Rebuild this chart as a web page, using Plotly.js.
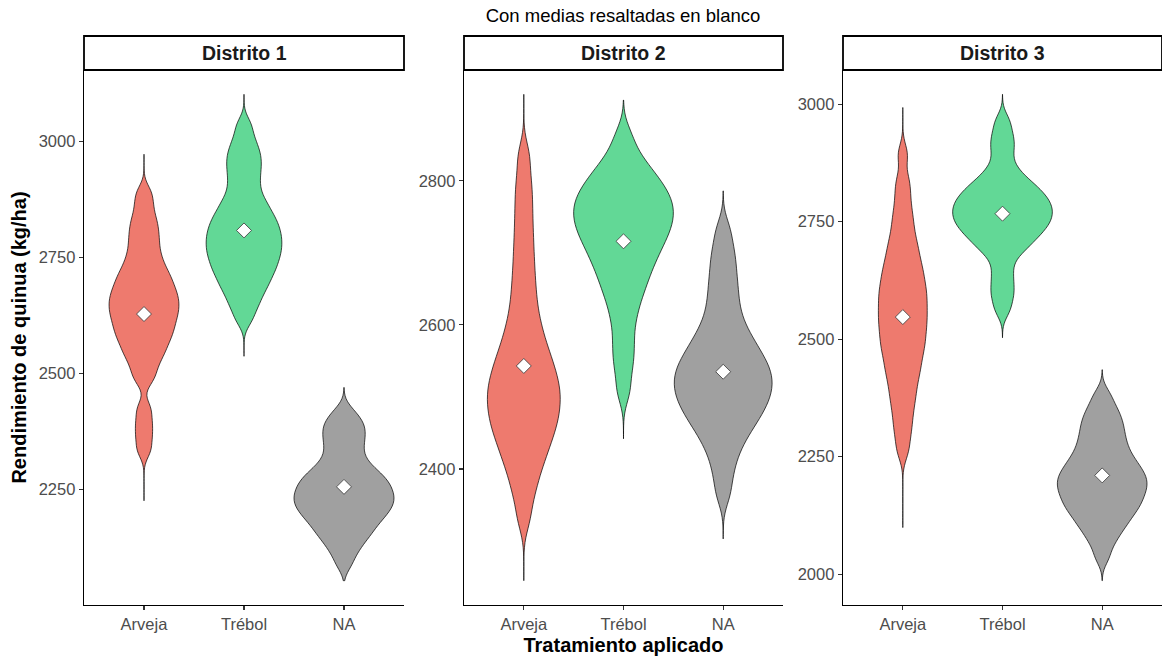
<!DOCTYPE html>
<html><head><meta charset="utf-8">
<script src="https://cdn.plot.ly/plotly-3.0.1.min.js"></script>
<style>html,body{margin:0;padding:0;background:#fff}#chart{width:1162px;height:659px}</style>
</head><body><div id="chart"></div>
<script>
// ---------- data ----------
const categories = ['Arveja', 'Trébol', 'NA'];
const districts = ['Distrito 1', 'Distrito 2', 'Distrito 3'];

// yield samples (kg/ha) per district and treatment
const d1_arveja = [2335,2366,2394,2425,2485,2505,2524,2538,2549,2560,2571,2579,2588,2596,2604,2612,2620,2627,2634,2641,2648,2655,2662,2669,2676,2684,2692,2701,2709,2719,2729,2742,2755,2771,2787,2803,2820,2838,2863,2890];
const d1_trebol = [2615,2639,2655,2669,2682,2691,2701,2710,2719,2726,2733,2741,2748,2755,2761,2768,2774,2781,2787,2794,2800,2807,2813,2821,2828,2835,2843,2852,2862,2872,2884,2900,2915,2931,2945,2959,2973,2988,3008,3036];
const d1_na     = [2090,2115,2129,2143,2152,2160,2168,2177,2184,2189,2195,2201,2207,2212,2216,2221,2226,2231,2236,2240,2245,2250,2256,2261,2266,2271,2277,2283,2290,2297,2306,2318,2330,2344,2356,2367,2379,2390,2401,2419];

const d2_arveja = [2331,2361,2379,2396,2407,2419,2428,2437,2445,2453,2460,2466,2473,2480,2486,2492,2498,2505,2511,2517,2523,2530,2538,2545,2552,2561,2571,2580,2593,2605,2621,2638,2657,2677,2699,2722,2747,2773,2800,2835];
const d2_trebol = [2508,2539,2561,2582,2604,2621,2636,2647,2658,2667,2675,2684,2691,2697,2704,2710,2716,2721,2726,2731,2736,2741,2745,2750,2754,2759,2763,2768,2772,2777,2782,2787,2792,2798,2804,2811,2819,2828,2842,2864];
const d2_na     = [2365,2392,2412,2428,2439,2449,2458,2464,2471,2477,2483,2488,2493,2498,2503,2508,2512,2517,2521,2526,2531,2535,2540,2545,2550,2555,2561,2568,2574,2581,2590,2599,2611,2624,2639,2654,2670,2688,2706,2732];

const d3_arveja = [2262,2296,2322,2346,2367,2385,2402,2419,2432,2445,2458,2471,2481,2492,2502,2513,2523,2533,2543,2552,2562,2572,2582,2592,2601,2611,2622,2633,2644,2656,2668,2683,2698,2713,2734,2755,2779,2809,2840,2893];
const d3_trebol = [2561,2587,2606,2627,2649,2672,2687,2696,2704,2712,2720,2725,2731,2736,2742,2747,2752,2756,2761,2766,2770,2775,2780,2785,2789,2794,2799,2804,2810,2816,2822,2828,2836,2846,2857,2875,2899,2918,2938,2965];
const d3_na     = [2036,2064,2079,2094,2103,2112,2121,2129,2136,2142,2148,2154,2160,2166,2172,2177,2182,2187,2193,2198,2203,2208,2213,2219,2225,2231,2238,2244,2252,2261,2269,2279,2289,2299,2310,2321,2332,2345,2360,2383];

// observed minimum / maximum of each group (violin extent)
const d1_range = [[2226, 2972], [2537, 3101], [2054, 2470]];
const d2_range = [[2245, 2920], [2442, 2912], [2303, 2786]];
const d3_range = [[2099, 2993], [2503, 3021], [1986, 2435]];

// group means (white diamonds)
const d1_means = [2628, 2808, 2256];
const d2_means = [2543, 2716, 2535];
const d3_means = [2547, 2767, 2210];

// y tick values per panel
const d1_ticks = [2250, 2500, 2750, 3000];
const d2_ticks = [2400, 2600, 2800];
const d3_ticks = [2000, 2250, 2500, 2750, 3000];

// kernel bandwidth per group (kg/ha)
const d1_bw = [18, 18, 18];
const d2_bw = [20, 18, 18];
const d3_bw = [22, 18, 18];

// ---------- style ----------
const FONT = 'Liberation Sans, Arial, Helvetica, sans-serif';
const fills = ['#EE7A6E', '#62D896', '#A0A0A0'];

const samples = [[d1_arveja, d1_trebol, d1_na], [d2_arveja, d2_trebol, d2_na], [d3_arveja, d3_trebol, d3_na]];
const ranges = [d1_range, d2_range, d3_range];
const means = [d1_means, d2_means, d3_means];
const ticks = [d1_ticks, d2_ticks, d3_ticks];
const bws = [d1_bw, d2_bw, d3_bw];

const W = 1162, H = 659;
const M = {l: 84, r: 0, t: 70, b: 54};
const PW = W - M.l - M.r, PH = H - M.t - M.b;
const panelPx = [[84, 404], [464, 783], [843, 1162]];
const domains = panelPx.map(p => [(p[0] - M.l) / PW, (p[1] - M.l) / PW]);

const traces = [];
const layout = {
  width: W, height: H,
  margin: M,
  paper_bgcolor: '#fff', plot_bgcolor: '#fff',
  showlegend: false,
  violinmode: 'overlay', violingap: 0, violingroupgap: 0,
  font: {family: FONT, color: '#000'},
  title: {text: 'Con medias resaltadas en blanco', x: 0.5, xref: 'paper', xanchor: 'center',
          y: 1 - 16 / H, yref: 'container', yanchor: 'middle', font: {family: FONT, size: 18.5, color: '#000'}},
  shapes: [], annotations: []
};

for (let i = 0; i < 3; i++) {
  const xa = i === 0 ? 'x' : 'x' + (i + 1);
  const ya = i === 0 ? 'y' : 'y' + (i + 1);
  for (let j = 0; j < 3; j++) {
    const vals = samples[i][j];
    traces.push({
      type: 'violin', xaxis: xa, yaxis: ya,
      x: vals.map(() => categories[j]), y: vals,
      name: districts[i] + ' ' + categories[j],
      scalegroup: 'panel' + i, scalemode: 'width',
      spanmode: 'manual', span: ranges[i][j],
      bandwidth: bws[i][j],
      points: false, box: {visible: false}, meanline: {visible: false},
      fillcolor: fills[j], line: {color: '#000', width: 0.7},
      hoveron: 'violins'
    });
  }
  traces.push({
    type: 'scatter', mode: 'markers', xaxis: xa, yaxis: ya,
    x: categories, y: means[i],
    marker: {symbol: 'diamond', size: 11.5, color: '#fff', line: {color: '#333', width: 0.8}},
    hoverinfo: 'y'
  });

  let lo = Infinity, hi = -Infinity;
  ranges[i].forEach(r => { lo = Math.min(lo, r[0]); hi = Math.max(hi, r[1]); });
  const pad = (hi - lo) * 0.05;

  const xKey = i === 0 ? 'xaxis' : 'xaxis' + (i + 1);
  const yKey = i === 0 ? 'yaxis' : 'yaxis' + (i + 1);
  layout[xKey] = {
    domain: domains[i], anchor: ya, type: 'category',
    categoryorder: 'array', categoryarray: categories, range: [-0.6, 2.6],
    showline: true, linecolor: '#000', linewidth: 1.3, mirror: false,
    ticks: 'outside', ticklen: 4, tickwidth: 1.1, tickcolor: '#333',
    tickfont: {family: FONT, size: 16.5, color: '#4D4D4D'},
    showgrid: false, zeroline: false, fixedrange: true, automargin: false
  };
  if (i === 1) {
    layout[xKey].title = {text: '<b>Tratamiento aplicado</b>', standoff: 6,
      font: {family: FONT, size: 20, color: '#000'}};
  }
  layout[yKey] = {
    domain: [0, 1], anchor: xa,
    range: [lo - pad, hi + pad],
    tickvals: ticks[i], ticktext: ticks[i].map(String),
    showline: true, linecolor: '#000', linewidth: 1.3,
    ticks: 'outside', ticklen: 4, tickwidth: 1.1, tickcolor: '#333',
    tickfont: {family: FONT, size: 16.5, color: '#4D4D4D'},
    showgrid: false, zeroline: false, fixedrange: true, automargin: false
  };
  if (i === 0) {
    layout[yKey].title = {text: '<b>Rendimiento de quinua (kg/ha)</b>', standoff: 6,
      font: {family: FONT, size: 20, color: '#000'}};
  }

  // facet strip
  const stripH = 34 / PH;
  layout.shapes.push({type: 'rect', xref: 'paper', yref: 'paper',
    x0: domains[i][0], x1: domains[i][1], y0: 1, y1: 1 + stripH,
    fillcolor: '#fff', line: {color: '#000', width: 1.8}, layer: 'above'});
  layout.annotations.push({xref: 'paper', yref: 'paper',
    x: (domains[i][0] + domains[i][1]) / 2, y: 1 + stripH / 2,
    xanchor: 'center', yanchor: 'middle', showarrow: false,
    text: '<b>' + districts[i] + '</b>', font: {family: FONT, size: 19.5, color: '#1A1A1A'}});
}

Plotly.newPlot('chart', traces, layout, {displayModeBar: false, staticPlot: true});
</script>
</body></html>
